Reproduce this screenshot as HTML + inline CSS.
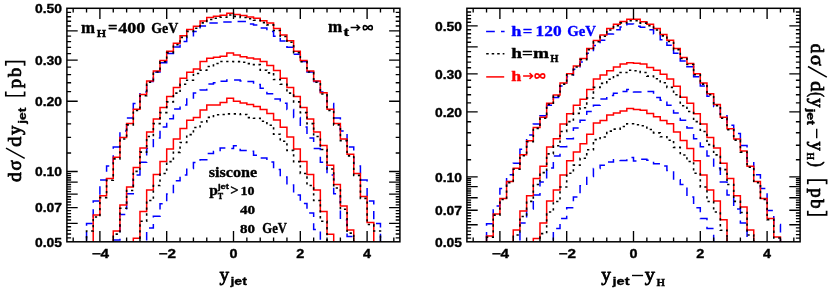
<!DOCTYPE html>
<html><head><meta charset="utf-8"><title>plot</title>
<style>html,body{margin:0;padding:0;background:#fff;}svg{display:block;will-change:transform}text{font-family:"Liberation Serif",serif;font-weight:bold;stroke-width:.35px;stroke-linejoin:round}.s{font-family:"Liberation Sans",sans-serif;font-weight:bold}</style></head><body>
<svg width="830" height="294" viewBox="0 0 830 294">
<rect x="0" y="0" width="830" height="294" fill="#fff"/>
<clipPath id="cL"><rect x="66.9" y="8.3" width="333.0" height="233.5"/></clipPath>
<g clip-path="url(#cL)" fill="none" stroke-linejoin="miter">
<path d="M79.86 261.8 L79.86 270 L86.54 270 L86.54 223.5 L93.22 223.5 L93.22 201 L99.9 201 L99.9 180 L106.58 180 L106.58 166 L113.26 166 L113.26 147 L119.94 147 L119.94 131 L126.62 131 L126.62 118 L133.3 118 L133.3 103.5 L139.98 103.5 L139.98 92 L146.66 92 L146.66 81.5 L153.34 81.5 L153.34 72 L160.02 72 L160.02 62.8 L166.7 62.8 L166.7 53.5 L173.38 53.5 L173.38 46.9 L180.06 46.9 L180.06 41.5 L186.74 41.5 L186.74 36.9 L193.42 36.9 L193.42 31.5 L200.1 31.5 L200.1 26 L206.78 26 L206.78 22.9 L213.46 22.9 L213.46 22.9 L220.14 22.9 L220.14 22 L226.82 22 L226.82 22 L233.5 22 L233.5 21.5 L240.18 21.5 L240.18 21.5 L246.86 21.5 L246.86 24 L253.54 24 L253.54 24.9 L260.22 24.9 L260.22 28 L266.9 28 L266.9 31.5 L273.58 31.5 L273.58 36.2 L280.26 36.2 L280.26 41 L286.94 41 L286.94 47.2 L293.62 47.2 L293.62 54.2 L300.3 54.2 L300.3 61.5 L306.98 61.5 L306.98 72 L313.66 72 L313.66 81.5 L320.34 81.5 L320.34 92 L327.02 92 L327.02 103.5 L333.7 103.5 L333.7 118 L340.38 118 L340.38 131 L347.06 131 L347.06 147 L353.74 147 L353.74 166 L360.42 166 L360.42 180 L367.1 180 L367.1 201 L373.78 201 L373.78 223.5 L380.46 223.5 L380.46 270 L387.14 270 L387.14 261.8" stroke="#0000ff" stroke-width="1.5" stroke-dasharray="8.4 6.4" stroke-dashoffset="0"/>
<path d="M106.58 261.8 L106.58 270 L113.26 270 L113.26 240 L119.94 240 L119.94 214.5 L126.62 214.5 L126.62 193.7 L133.3 193.7 L133.3 175 L139.98 175 L139.98 162.2 L146.66 162.2 L146.66 148.5 L153.34 148.5 L153.34 138 L160.02 138 L160.02 127.1 L166.7 127.1 L166.7 118.7 L173.38 118.7 L173.38 108.9 L180.06 108.9 L180.06 105.1 L186.74 105.1 L186.74 97.9 L193.42 97.9 L193.42 93.1 L200.1 93.1 L200.1 90.1 L206.78 90.1 L206.78 84 L213.46 84 L213.46 82.8 L220.14 82.8 L220.14 81.3 L226.82 81.3 L226.82 80.1 L233.5 80.1 L233.5 80.1 L240.18 80.1 L240.18 81 L246.86 81 L246.86 81.6 L253.54 81.6 L253.54 84.6 L260.22 84.6 L260.22 88.3 L266.9 88.3 L266.9 93.7 L273.58 93.7 L273.58 99.1 L280.26 99.1 L280.26 103.3 L286.94 103.3 L286.94 109.5 L293.62 109.5 L293.62 117.5 L300.3 117.5 L300.3 127.1 L306.98 127.1 L306.98 138 L313.66 138 L313.66 148.5 L320.34 148.5 L320.34 162.2 L327.02 162.2 L327.02 175 L333.7 175 L333.7 193.7 L340.38 193.7 L340.38 220 L347.06 220 L347.06 236.5 L353.74 236.5 L353.74 270 L360.42 270 L360.42 261.8" stroke="#0000ff" stroke-width="1.5" stroke-dasharray="8.4 6.4" stroke-dashoffset="0"/>
<path d="M139.98 261.8 L139.98 270 L146.66 270 L146.66 228 L153.34 228 L153.34 216.2 L160.02 216.2 L160.02 203.7 L166.7 203.7 L166.7 194 L173.38 194 L173.38 180.8 L180.06 180.8 L180.06 175 L186.74 175 L186.74 168.5 L193.42 168.5 L193.42 162.5 L200.1 162.5 L200.1 159.8 L206.78 159.8 L206.78 153.5 L213.46 153.5 L213.46 151.5 L220.14 151.5 L220.14 148 L226.82 148 L226.82 148.5 L233.5 148.5 L233.5 145.7 L240.18 145.7 L240.18 150.6 L246.86 150.6 L246.86 151.2 L253.54 151.2 L253.54 155.2 L260.22 155.2 L260.22 157.9 L266.9 157.9 L266.9 162 L273.58 162 L273.58 169.5 L280.26 169.5 L280.26 177 L286.94 177 L286.94 185 L293.62 185 L293.62 195 L300.3 195 L300.3 203.5 L306.98 203.5 L306.98 213 L313.66 213 L313.66 229.5 L320.34 229.5 L320.34 270 L327.02 270 L327.02 261.8" stroke="#0000ff" stroke-width="1.5" stroke-dasharray="8.4 6.4" stroke-dashoffset="0"/>
<path d="M86.54 261.8 L86.54 270 L93.22 270 L93.22 215 L99.9 215 L99.9 195.7 L106.58 195.7 L106.58 178.4 L113.26 178.4 L113.26 157.2 L119.94 157.2 L119.94 137.5 L126.62 137.5 L126.62 123.4 L133.3 123.4 L133.3 109.2 L139.98 109.2 L139.98 94.5 L146.66 94.5 L146.66 81.1 L153.34 81.1 L153.34 71 L160.02 71 L160.02 60.6 L166.7 60.6 L166.7 51.3 L173.38 51.3 L173.38 43.3 L180.06 43.3 L180.06 35.7 L186.74 35.7 L186.74 29.5 L193.42 29.5 L193.42 26.2 L200.1 26.2 L200.1 20.9 L206.78 20.9 L206.78 17.6 L213.46 17.6 L213.46 16.3 L220.14 16.3 L220.14 15.35 L226.82 15.35 L226.82 13.2 L233.5 13.2 L233.5 14.55 L240.18 14.55 L240.18 15.6 L246.86 15.6 L246.86 16.9 L253.54 16.9 L253.54 18.3 L260.22 18.3 L260.22 20.7 L266.9 20.7 L266.9 22.9 L273.58 22.9 L273.58 28.6 L280.26 28.6 L280.26 34.9 L286.94 34.9 L286.94 40.8 L293.62 40.8 L293.62 51.3 L300.3 51.3 L300.3 60.6 L306.98 60.6 L306.98 71 L313.66 71 L313.66 81.1 L320.34 81.1 L320.34 92.8 L327.02 92.8 L327.02 109.2 L333.7 109.2 L333.7 123.4 L340.38 123.4 L340.38 139.1 L347.06 139.1 L347.06 154.2 L353.74 154.2 L353.74 173.6 L360.42 173.6 L360.42 196.5 L367.1 196.5 L367.1 222.5 L373.78 222.5 L373.78 270 L380.46 270 L380.46 261.8" stroke="#ff0000" stroke-width="1.5"/>
<path d="M106.58 261.8 L106.58 270 L113.26 270 L113.26 231.1 L119.94 231.1 L119.94 205 L126.62 205 L126.62 187 L133.3 187 L133.3 167.6 L139.98 167.6 L139.98 148.1 L146.66 148.1 L146.66 132.1 L153.34 132.1 L153.34 119 L160.02 119 L160.02 107.6 L166.7 107.6 L166.7 96.5 L173.38 96.5 L173.38 87.5 L180.06 87.5 L180.06 78.2 L186.74 78.2 L186.74 72.2 L193.42 72.2 L193.42 68.9 L200.1 68.9 L200.1 61.6 L206.78 61.6 L206.78 58.3 L213.46 58.3 L213.46 57.2 L220.14 57.2 L220.14 56.3 L226.82 56.3 L226.82 53 L233.5 53 L233.5 55 L240.18 55 L240.18 56.7 L246.86 56.7 L246.86 58 L253.54 58 L253.54 58.9 L260.22 58.9 L260.22 61.6 L266.9 61.6 L266.9 65.6 L273.58 65.6 L273.58 70.5 L280.26 70.5 L280.26 78.2 L286.94 78.2 L286.94 87.5 L293.62 87.5 L293.62 96.5 L300.3 96.5 L300.3 107.6 L306.98 107.6 L306.98 119 L313.66 119 L313.66 132.1 L320.34 132.1 L320.34 145.5 L327.02 145.5 L327.02 165.2 L333.7 165.2 L333.7 184.5 L340.38 184.5 L340.38 206 L347.06 206 L347.06 230.1 L353.74 230.1 L353.74 270 L360.42 270 L360.42 261.8" stroke="#ff0000" stroke-width="1.5"/>
<path d="M126.62 261.8 L126.62 270 L133.3 270 L133.3 238.2 L139.98 238.2 L139.98 211.5 L146.66 211.5 L146.66 190 L153.34 190 L153.34 174.4 L160.02 174.4 L160.02 161.6 L166.7 161.6 L166.7 149.1 L173.38 149.1 L173.38 139.1 L180.06 139.1 L180.06 128.5 L186.74 128.5 L186.74 120.3 L193.42 120.3 L193.42 117.6 L200.1 117.6 L200.1 109.9 L206.78 109.9 L206.78 104.9 L213.46 104.9 L213.46 104.9 L220.14 104.9 L220.14 102.6 L226.82 102.6 L226.82 98.2 L233.5 98.2 L233.5 101.3 L240.18 101.3 L240.18 102.9 L246.86 102.9 L246.86 104.6 L253.54 104.6 L253.54 106.6 L260.22 106.6 L260.22 109.5 L266.9 109.5 L266.9 113.5 L273.58 113.5 L273.58 119.9 L280.26 119.9 L280.26 127.3 L286.94 127.3 L286.94 137.1 L293.62 137.1 L293.62 149.1 L300.3 149.1 L300.3 161.6 L306.98 161.6 L306.98 174.4 L313.66 174.4 L313.66 190 L320.34 190 L320.34 211.5 L327.02 211.5 L327.02 234.2 L333.7 234.2 L333.7 270 L340.38 270 L340.38 261.8" stroke="#ff0000" stroke-width="1.5"/>
<path d="M86.54 261.8 L86.54 231 L93.22 231 L93.22 217 L99.9 217 L99.9 197.59 L106.58 197.59 L106.58 180.18 L113.26 180.18 L113.26 158.87 L119.94 158.87 L119.94 139.06 L126.62 139.06 L126.62 124.84 L133.3 124.84 L133.3 110.53 L139.98 110.53 L139.98 95.72 L146.66 95.72 L146.66 82.21 L153.34 82.21 L153.34 72 L160.02 72 L160.02 61.77 L166.7 61.77 L166.7 52.63 L173.38 52.63 L173.38 44.8 L180.06 44.8 L180.06 37.37 L186.74 37.37 L186.74 31.33 L193.42 31.33 L193.42 28.2 L200.1 28.2 L200.1 22.86 L206.78 22.86 L206.78 19.52 L213.46 19.52 L213.46 18.18 L220.14 18.18 L220.14 17.19 L226.82 17.19 L226.82 15 L233.5 15 L233.5 16.35 L240.18 16.35 L240.18 17.44 L246.86 17.44 L246.86 18.78 L253.54 18.78 L253.54 20.22 L260.22 20.22 L260.22 22.66 L266.9 22.66 L266.9 24.9 L273.58 24.9 L273.58 30.43 L280.26 30.43 L280.26 36.57 L286.94 36.57 L286.94 42.3 L293.62 42.3 L293.62 52.63 L300.3 52.63 L300.3 61.77 L306.98 61.77 L306.98 72 L313.66 72 L313.66 82.21 L320.34 82.21 L320.34 94.02 L327.02 94.02 L327.02 110.53 L333.7 110.53 L333.7 124.84 L340.38 124.84 L340.38 140.66 L347.06 140.66 L347.06 155.87 L353.74 155.87 L353.74 175.38 L360.42 175.38 L360.42 198.39 L367.1 198.39 L367.1 224.5 L373.78 224.5 L373.78 231 L380.46 231 L380.46 261.8" stroke="#000" stroke-width="1.6" stroke-dasharray="2.3 3.6"/>
<path d="M106.58 261.8 L106.58 270 L113.26 270 L113.26 234.1 L119.94 234.1 L119.94 208.25 L126.62 208.25 L126.62 190.5 L133.3 190.5 L133.3 171.35 L139.98 171.35 L139.98 152.1 L146.66 152.1 L146.66 136.43 L153.34 136.43 L153.34 123.67 L160.02 123.67 L160.02 112.6 L166.7 112.6 L166.7 101.83 L173.38 101.83 L173.38 93.17 L180.06 93.17 L180.06 84.2 L186.74 84.2 L186.74 80.2 L193.42 80.2 L193.42 73.5 L200.1 73.5 L200.1 70.2 L206.78 70.2 L206.78 66.5 L213.46 66.5 L213.46 63.5 L220.14 63.5 L220.14 61.5 L226.82 61.5 L226.82 61.5 L233.5 61.5 L233.5 61.6 L240.18 61.6 L240.18 62.3 L246.86 62.3 L246.86 63.6 L253.54 63.6 L253.54 64.6 L260.22 64.6 L260.22 70.2 L266.9 70.2 L266.9 72.9 L273.58 72.9 L273.58 79.5 L280.26 79.5 L280.26 84.2 L286.94 84.2 L286.94 93.17 L293.62 93.17 L293.62 101.83 L300.3 101.83 L300.3 112.6 L306.98 112.6 L306.98 123.67 L313.66 123.67 L313.66 136.43 L320.34 136.43 L320.34 149.5 L327.02 149.5 L327.02 168.95 L333.7 168.95 L333.7 188 L340.38 188 L340.38 209.25 L347.06 209.25 L347.06 233.1 L353.74 233.1 L353.74 270 L360.42 270 L360.42 261.8" stroke="#000" stroke-width="1.6" stroke-dasharray="2.3 3.6"/>
<path d="M126.62 261.8 L126.62 270 L133.3 270 L133.3 247.2 L139.98 247.2 L139.98 221.21 L146.66 221.21 L146.66 200.43 L153.34 200.43 L153.34 185.54 L160.02 185.54 L160.02 173.46 L166.7 173.46 L166.7 161.67 L173.38 161.67 L173.38 152.39 L180.06 152.39 L180.06 142.5 L186.74 142.5 L186.74 134.59 L193.42 134.59 L193.42 127.5 L200.1 127.5 L200.1 122 L206.78 122 L206.78 117.4 L213.46 117.4 L213.46 114.8 L220.14 114.8 L220.14 114.5 L226.82 114.5 L226.82 113.9 L233.5 113.9 L233.5 113.9 L240.18 113.9 L240.18 114.5 L246.86 114.5 L246.86 117.6 L253.54 117.6 L253.54 118.2 L260.22 118.2 L260.22 121.2 L266.9 121.2 L266.9 125.2 L273.58 125.2 L273.58 134.19 L280.26 134.19 L280.26 141.3 L286.94 141.3 L286.94 150.39 L293.62 150.39 L293.62 161.67 L300.3 161.67 L300.3 173.46 L306.98 173.46 L306.98 185.54 L313.66 185.54 L313.66 200.43 L320.34 200.43 L320.34 221.21 L327.02 221.21 L327.02 243.2 L333.7 243.2 L333.7 270 L340.38 270 L340.38 261.8" stroke="#000" stroke-width="1.6" stroke-dasharray="2.3 3.6"/>
</g>
<path d="M73.18 241.8V237.6M73.18 8.3V12.5M86.54 241.8V237.6M86.54 8.3V12.5M99.9 241.8V231M99.9 8.3V19.1M113.26 241.8V237.6M113.26 8.3V12.5M126.62 241.8V237.6M126.62 8.3V12.5M139.98 241.8V237.6M139.98 8.3V12.5M153.34 241.8V237.6M153.34 8.3V12.5M166.7 241.8V231M166.7 8.3V19.1M180.06 241.8V237.6M180.06 8.3V12.5M193.42 241.8V237.6M193.42 8.3V12.5M206.78 241.8V237.6M206.78 8.3V12.5M220.14 241.8V237.6M220.14 8.3V12.5M233.5 241.8V231M233.5 8.3V19.1M246.86 241.8V237.6M246.86 8.3V12.5M260.22 241.8V237.6M260.22 8.3V12.5M273.58 241.8V237.6M273.58 8.3V12.5M286.94 241.8V237.6M286.94 8.3V12.5M300.3 241.8V231M300.3 8.3V19.1M313.66 241.8V237.6M313.66 8.3V12.5M327.02 241.8V237.6M327.02 8.3V12.5M340.38 241.8V237.6M340.38 8.3V12.5M353.74 241.8V237.6M353.74 8.3V12.5M367.1 241.8V231M367.1 8.3V19.1M380.46 241.8V237.6M380.46 8.3V12.5M393.82 241.8V237.6M393.82 8.3V12.5M66.9 237.82H71.1M399.9 237.82H395.7M66.9 234H71.1M399.9 234H395.7M66.9 230.31H71.1M399.9 230.31H395.7M66.9 226.75H71.1M399.9 226.75H395.7M66.9 223.31H77.7M399.9 223.31H389.1M66.9 219.99H71.1M399.9 219.99H395.7M66.9 216.77H71.1M399.9 216.77H395.7M66.9 213.65H71.1M399.9 213.65H395.7M66.9 210.62H71.1M399.9 210.62H395.7M66.9 207.68H77.7M399.9 207.68H389.1M66.9 204.82H71.1M399.9 204.82H395.7M66.9 202.04H71.1M399.9 202.04H395.7M66.9 199.34H71.1M399.9 199.34H395.7M66.9 196.71H71.1M399.9 196.71H395.7M66.9 194.14H77.7M399.9 194.14H389.1M66.9 191.63H71.1M399.9 191.63H395.7M66.9 189.19H71.1M399.9 189.19H395.7M66.9 186.8H71.1M399.9 186.8H395.7M66.9 184.47H71.1M399.9 184.47H395.7M66.9 182.19H77.7M399.9 182.19H389.1M66.9 179.97H71.1M399.9 179.97H395.7M66.9 177.78H71.1M399.9 177.78H395.7M66.9 175.65H71.1M399.9 175.65H395.7M66.9 173.56H71.1M399.9 173.56H395.7M66.9 171.51H77.7M399.9 171.51H389.1M66.9 153.02H71.1M399.9 153.02H395.7M66.9 137.39H71.1M399.9 137.39H395.7M66.9 123.85H71.1M399.9 123.85H395.7M66.9 111.9H71.1M399.9 111.9H395.7M66.9 101.22H77.7M399.9 101.22H389.1M66.9 91.55H71.1M399.9 91.55H395.7M66.9 82.73H71.1M399.9 82.73H395.7M66.9 74.61H71.1M399.9 74.61H395.7M66.9 67.1H71.1M399.9 67.1H395.7M66.9 60.1H77.7M399.9 60.1H389.1M66.9 53.56H71.1M399.9 53.56H395.7M66.9 47.41H71.1M399.9 47.41H395.7M66.9 41.61H71.1M399.9 41.61H395.7M66.9 36.13H71.1M399.9 36.13H395.7M66.9 30.93H77.7M399.9 30.93H389.1M66.9 25.98H71.1M399.9 25.98H395.7M66.9 21.26H71.1M399.9 21.26H395.7M66.9 16.76H71.1M399.9 16.76H395.7M66.9 12.44H71.1M399.9 12.44H395.7" stroke="#000" stroke-width="1.35" fill="none"/>
<rect x="66.9" y="8.3" width="333.0" height="233.5" fill="none" stroke="#000" stroke-width="1.5"/>
<text class="s" fill="#000" stroke="#000" x="62" y="13.1" font-size="12.2" text-anchor="end" textLength="27" lengthAdjust="spacingAndGlyphs">0.50</text>
<text class="s" fill="#000" stroke="#000" x="62" y="64.9" font-size="12.2" text-anchor="end" textLength="27" lengthAdjust="spacingAndGlyphs">0.30</text>
<text class="s" fill="#000" stroke="#000" x="62" y="106.02" font-size="12.2" text-anchor="end" textLength="27" lengthAdjust="spacingAndGlyphs">0.20</text>
<text class="s" fill="#000" stroke="#000" x="62" y="176.31" font-size="12.2" text-anchor="end" textLength="27" lengthAdjust="spacingAndGlyphs">0.10</text>
<text class="s" fill="#000" stroke="#000" x="62" y="212.48" font-size="12.2" text-anchor="end" textLength="27" lengthAdjust="spacingAndGlyphs">0.07</text>
<text class="s" fill="#000" stroke="#000" x="62" y="246.6" font-size="12.2" text-anchor="end" textLength="27" lengthAdjust="spacingAndGlyphs">0.05</text>
<text class="s" fill="#000" stroke="#000" x="100.4" y="258.4" font-size="12.2" text-anchor="middle" textLength="17.4" lengthAdjust="spacingAndGlyphs">−4</text>
<text class="s" fill="#000" stroke="#000" x="167.2" y="258.4" font-size="12.2" text-anchor="middle" textLength="17.4" lengthAdjust="spacingAndGlyphs">−2</text>
<text class="s" fill="#000" stroke="#000" x="233.5" y="258.4" font-size="12.2" text-anchor="middle" textLength="8" lengthAdjust="spacingAndGlyphs">0</text>
<text class="s" fill="#000" stroke="#000" x="300.3" y="258.4" font-size="12.2" text-anchor="middle" textLength="8" lengthAdjust="spacingAndGlyphs">2</text>
<text class="s" fill="#000" stroke="#000" x="367.1" y="258.4" font-size="12.2" text-anchor="middle" textLength="8" lengthAdjust="spacingAndGlyphs">4</text>
<clipPath id="cR"><rect x="466.9" y="8.3" width="333.20000000000005" height="233.5"/></clipPath>
<g clip-path="url(#cR)" fill="none" stroke-linejoin="miter">
<path d="M479.86 261.8 L479.86 270 L486.54 270 L486.54 223.7 L493.22 223.7 L493.22 206.1 L499.9 206.1 L499.9 188.5 L506.58 188.5 L506.58 174.8 L513.26 174.8 L513.26 163.2 L519.94 163.2 L519.94 149.3 L526.62 149.3 L526.62 135.1 L533.3 135.1 L533.3 124 L539.98 124 L539.98 115.7 L546.66 115.7 L546.66 105.2 L553.34 105.2 L553.34 97.6 L560.02 97.6 L560.02 86.1 L566.7 86.1 L566.7 76.87 L573.38 76.87 L573.38 69.33 L580.06 69.33 L580.06 62 L586.74 62 L586.74 53.3 L593.42 53.3 L593.42 45.57 L600.1 45.57 L600.1 40.13 L606.78 40.13 L606.78 33.9 L613.46 33.9 L613.46 29.7 L620.14 29.7 L620.14 26.9 L626.82 26.9 L626.82 24.1 L633.5 24.1 L633.5 26.2 L640.18 26.2 L640.18 27.2 L646.86 27.2 L646.86 29.7 L653.54 29.7 L653.54 33.9 L660.22 33.9 L660.22 39.73 L666.9 39.73 L666.9 45.27 L673.58 45.27 L673.58 53.3 L680.26 53.3 L680.26 60.9 L686.94 60.9 L686.94 66.83 L693.62 66.83 L693.62 76.87 L700.3 76.87 L700.3 86.1 L706.98 86.1 L706.98 96.2 L713.66 96.2 L713.66 106.6 L720.34 106.6 L720.34 115.7 L727.02 115.7 L727.02 125.3 L733.7 125.3 L733.7 133.5 L740.38 133.5 L740.38 145.6 L747.06 145.6 L747.06 161.2 L753.74 161.2 L753.74 174.8 L760.42 174.8 L760.42 188.5 L767.1 188.5 L767.1 210.6 L773.78 210.6 L773.78 224.6 L780.46 224.6 L780.46 270 L787.14 270 L787.14 261.8" stroke="#0000ff" stroke-width="1.5" stroke-dasharray="8.4 6.4" stroke-dashoffset="0"/>
<path d="M513.26 261.8 L513.26 270 L519.94 270 L519.94 223 L526.62 223 L526.62 209 L533.3 209 L533.3 195 L539.98 195 L539.98 182 L546.66 182 L546.66 168 L553.34 168 L553.34 156 L560.02 156 L560.02 146.7 L566.7 146.7 L566.7 138.7 L573.38 138.7 L573.38 128 L580.06 128 L580.06 120.2 L586.74 120.2 L586.74 111.5 L593.42 111.5 L593.42 105.2 L600.1 105.2 L600.1 98.9 L606.78 98.9 L606.78 95.6 L613.46 95.6 L613.46 93.2 L620.14 93.2 L620.14 91.4 L626.82 91.4 L626.82 89.6 L633.5 89.6 L633.5 91.9 L640.18 91.9 L640.18 91.9 L646.86 91.9 L646.86 91.4 L653.54 91.4 L653.54 97.5 L660.22 97.5 L660.22 100.3 L666.9 100.3 L666.9 105.2 L673.58 105.2 L673.58 112.9 L680.26 112.9 L680.26 120.2 L686.94 120.2 L686.94 128 L693.62 128 L693.62 138.7 L700.3 138.7 L700.3 146.7 L706.98 146.7 L706.98 156 L713.66 156 L713.66 168 L720.34 168 L720.34 182 L727.02 182 L727.02 195 L733.7 195 L733.7 209 L740.38 209 L740.38 223 L747.06 223 L747.06 270 L753.74 270 L753.74 261.8" stroke="#0000ff" stroke-width="1.5" stroke-dasharray="8.4 6.4" stroke-dashoffset="0"/>
<path d="M546.66 261.8 L546.66 270 L553.34 270 L553.34 228.5 L560.02 228.5 L560.02 218.6 L566.7 218.6 L566.7 207.7 L573.38 207.7 L573.38 197 L580.06 197 L580.06 185.8 L586.74 185.8 L586.74 176.5 L593.42 176.5 L593.42 168.6 L600.1 168.6 L600.1 165.3 L606.78 165.3 L606.78 161.9 L613.46 161.9 L613.46 159.7 L620.14 159.7 L620.14 160.6 L626.82 160.6 L626.82 157.6 L633.5 157.6 L633.5 161 L640.18 161 L640.18 159.3 L646.86 159.3 L646.86 160.2 L653.54 160.2 L653.54 163.7 L660.22 163.7 L660.22 165.9 L666.9 165.9 L666.9 170.6 L673.58 170.6 L673.58 179.8 L680.26 179.8 L680.26 184.5 L686.94 184.5 L686.94 197 L693.62 197 L693.62 207.7 L700.3 207.7 L700.3 218.6 L706.98 218.6 L706.98 228.5 L713.66 228.5 L713.66 270 L720.34 270 L720.34 261.8" stroke="#0000ff" stroke-width="1.5" stroke-dasharray="8.4 6.4" stroke-dashoffset="0"/>
<path d="M479.86 261.8 L479.86 270 L486.54 270 L486.54 236.1 L493.22 236.1 L493.22 214.1 L499.9 214.1 L499.9 198.5 L506.58 198.5 L506.58 181.6 L513.26 181.6 L513.26 168.2 L519.94 168.2 L519.94 154.8 L526.62 154.8 L526.62 140.7 L533.3 140.7 L533.3 127.4 L539.98 127.4 L539.98 117.2 L546.66 117.2 L546.66 103.2 L553.34 103.2 L553.34 95.1 L560.02 95.1 L560.02 83.1 L566.7 83.1 L566.7 73.7 L573.38 73.7 L573.38 66 L580.06 66 L580.06 58.5 L586.74 58.5 L586.74 48.5 L593.42 48.5 L593.42 40.6 L600.1 40.6 L600.1 35 L606.78 35 L606.78 28.6 L613.46 28.6 L613.46 24.3 L620.14 24.3 L620.14 21.4 L626.82 21.4 L626.82 19.3 L633.5 19.3 L633.5 19.3 L640.18 19.3 L640.18 21.7 L646.86 21.7 L646.86 24.3 L653.54 24.3 L653.54 28.6 L660.22 28.6 L660.22 34.6 L666.9 34.6 L666.9 40.3 L673.58 40.3 L673.58 48.5 L680.26 48.5 L680.26 57.4 L686.94 57.4 L686.94 63.5 L693.62 63.5 L693.62 73.7 L700.3 73.7 L700.3 83.1 L706.98 83.1 L706.98 93.7 L713.66 93.7 L713.66 104.6 L720.34 104.6 L720.34 117.2 L727.02 117.2 L727.02 128.7 L733.7 128.7 L733.7 139.1 L740.38 139.1 L740.38 151.1 L747.06 151.1 L747.06 166.2 L753.74 166.2 L753.74 181.6 L760.42 181.6 L760.42 198.5 L767.1 198.5 L767.1 218.6 L773.78 218.6 L773.78 237 L780.46 237 L780.46 270 L787.14 270 L787.14 261.8" stroke="#ff0000" stroke-width="1.5"/>
<path d="M506.58 261.8 L506.58 270 L513.26 270 L513.26 230 L519.94 230 L519.94 211.1 L526.62 211.1 L526.62 195.7 L533.3 195.7 L533.3 178.4 L539.98 178.4 L539.98 166.2 L546.66 166.2 L546.66 147.1 L553.34 147.1 L553.34 138.7 L560.02 138.7 L560.02 124 L566.7 124 L566.7 113.8 L573.38 113.8 L573.38 105.2 L580.06 105.2 L580.06 99.2 L586.74 99.2 L586.74 89.5 L593.42 89.5 L593.42 78.9 L600.1 78.9 L600.1 74.9 L606.78 74.9 L606.78 70.7 L613.46 70.7 L613.46 66.9 L620.14 66.9 L620.14 64 L626.82 64 L626.82 62.7 L633.5 62.7 L633.5 63.2 L640.18 63.2 L640.18 64 L646.86 64 L646.86 67.6 L653.54 67.6 L653.54 70.3 L660.22 70.3 L660.22 74.2 L666.9 74.2 L666.9 78.9 L673.58 78.9 L673.58 86.2 L680.26 86.2 L680.26 97.2 L686.94 97.2 L686.94 103.3 L693.62 103.3 L693.62 113.8 L700.3 113.8 L700.3 124 L706.98 124 L706.98 137.5 L713.66 137.5 L713.66 148.1 L720.34 148.1 L720.34 163.2 L727.02 163.2 L727.02 178.4 L733.7 178.4 L733.7 195.7 L740.38 195.7 L740.38 207.1 L747.06 207.1 L747.06 230 L753.74 230 L753.74 270 L760.42 270 L760.42 261.8" stroke="#ff0000" stroke-width="1.5"/>
<path d="M526.62 261.8 L526.62 270 L533.3 270 L533.3 238.5 L539.98 238.5 L539.98 223.1 L546.66 223.1 L546.66 201 L553.34 201 L553.34 190 L560.02 190 L560.02 175 L566.7 175 L566.7 160.8 L573.38 160.8 L573.38 152.1 L580.06 152.1 L580.06 143.8 L586.74 143.8 L586.74 134.3 L593.42 134.3 L593.42 123.1 L600.1 123.1 L600.1 120.6 L606.78 120.6 L606.78 115 L613.46 115 L613.46 113.1 L620.14 113.1 L620.14 110.9 L626.82 110.9 L626.82 108.6 L633.5 108.6 L633.5 109.5 L640.18 109.5 L640.18 110.2 L646.86 110.2 L646.86 113.5 L653.54 113.5 L653.54 116.7 L660.22 116.7 L660.22 120.4 L666.9 120.4 L666.9 123.7 L673.58 123.7 L673.58 131.9 L680.26 131.9 L680.26 140.5 L686.94 140.5 L686.94 148.5 L693.62 148.5 L693.62 160.8 L700.3 160.8 L700.3 175 L706.98 175 L706.98 190 L713.66 190 L713.66 201 L720.34 201 L720.34 219.7 L727.02 219.7 L727.02 270 L733.7 270 L733.7 270 L740.38 270 L740.38 261.8" stroke="#ff0000" stroke-width="1.5"/>
<path d="M479.86 261.8 L479.86 270 L486.54 270 L486.54 237.1 L493.22 237.1 L493.22 215.1 L499.9 215.1 L499.9 199.5 L506.58 199.5 L506.58 182.6 L513.26 182.6 L513.26 169.2 L519.94 169.2 L519.94 155.8 L526.62 155.8 L526.62 141.7 L533.3 141.7 L533.3 128.4 L539.98 128.4 L539.98 118.2 L546.66 118.2 L546.66 104.2 L553.34 104.2 L553.34 96.1 L560.02 96.1 L560.02 84.1 L566.7 84.1 L566.7 74.7 L573.38 74.7 L573.38 67.06 L580.06 67.06 L580.06 59.61 L586.74 59.61 L586.74 49.67 L593.42 49.67 L593.42 41.82 L600.1 41.82 L600.1 36.28 L606.78 36.28 L606.78 29.93 L613.46 29.93 L613.46 25.69 L620.14 25.69 L620.14 22.84 L626.82 22.84 L626.82 20.8 L633.5 20.8 L633.5 20.8 L640.18 20.8 L640.18 23.14 L646.86 23.14 L646.86 25.69 L653.54 25.69 L653.54 29.93 L660.22 29.93 L660.22 35.88 L666.9 35.88 L666.9 41.52 L673.58 41.52 L673.58 49.67 L680.26 49.67 L680.26 58.51 L686.94 58.51 L686.94 64.56 L693.62 64.56 L693.62 74.7 L700.3 74.7 L700.3 84.1 L706.98 84.1 L706.98 94.7 L713.66 94.7 L713.66 105.6 L720.34 105.6 L720.34 118.2 L727.02 118.2 L727.02 129.7 L733.7 129.7 L733.7 140.1 L740.38 140.1 L740.38 152.1 L747.06 152.1 L747.06 167.2 L753.74 167.2 L753.74 182.6 L760.42 182.6 L760.42 199.5 L767.1 199.5 L767.1 219.6 L773.78 219.6 L773.78 238 L780.46 238 L780.46 270 L787.14 270 L787.14 261.8" stroke="#000" stroke-width="1.6" stroke-dasharray="2.3 3.6"/>
<path d="M506.58 261.8 L506.58 270 L513.26 270 L513.26 235 L519.94 235 L519.94 216.45 L526.62 216.45 L526.62 201.4 L533.3 201.4 L533.3 184.45 L539.98 184.45 L539.98 172.6 L546.66 172.6 L546.66 153.85 L553.34 153.85 L553.34 145.8 L560.02 145.8 L560.02 131.45 L566.7 131.45 L566.7 121.6 L573.38 121.6 L573.38 113.35 L580.06 113.35 L580.06 107.7 L586.74 107.7 L586.74 98 L593.42 98 L593.42 87.4 L600.1 87.4 L600.1 83.4 L606.78 83.4 L606.78 79.2 L613.46 79.2 L613.46 75.4 L620.14 75.4 L620.14 72.5 L626.82 72.5 L626.82 70.2 L633.5 70.2 L633.5 70.7 L640.18 70.7 L640.18 72.5 L646.86 72.5 L646.86 76.1 L653.54 76.1 L653.54 78.8 L660.22 78.8 L660.22 82.7 L666.9 82.7 L666.9 87.4 L673.58 87.4 L673.58 94.7 L680.26 94.7 L680.26 105.7 L686.94 105.7 L686.94 111.45 L693.62 111.45 L693.62 121.6 L700.3 121.6 L700.3 131.45 L706.98 131.45 L706.98 144.6 L713.66 144.6 L713.66 154.85 L720.34 154.85 L720.34 169.6 L727.02 169.6 L727.02 184.45 L733.7 184.45 L733.7 201.4 L740.38 201.4 L740.38 212.45 L747.06 212.45 L747.06 235 L753.74 235 L753.74 270 L760.42 270 L760.42 261.8" stroke="#000" stroke-width="1.6" stroke-dasharray="2.3 3.6"/>
<path d="M526.62 261.8 L526.62 270 L533.3 270 L533.3 248.5 L539.98 248.5 L539.98 233.6 L546.66 233.6 L546.66 212 L553.34 212 L553.34 201.5 L560.02 201.5 L560.02 187 L566.7 187 L566.7 173.3 L573.38 173.3 L573.38 165.1 L580.06 165.1 L580.06 158.3 L586.74 158.3 L586.74 149.8 L593.42 149.8 L593.42 139.6 L600.1 139.6 L600.1 136.93 L606.78 136.93 L606.78 131.17 L613.46 131.17 L613.46 129.1 L620.14 129.1 L620.14 126.5 L626.82 126.5 L626.82 123.8 L633.5 123.8 L633.5 124.7 L640.18 124.7 L640.18 125.8 L646.86 125.8 L646.86 129.5 L653.54 129.5 L653.54 132.87 L660.22 132.87 L660.22 136.73 L666.9 136.73 L666.9 140.2 L673.58 140.2 L673.58 147.4 L680.26 147.4 L680.26 155 L686.94 155 L686.94 161.5 L693.62 161.5 L693.62 173.3 L700.3 173.3 L700.3 187 L706.98 187 L706.98 201.5 L713.66 201.5 L713.66 212 L720.34 212 L720.34 230.2 L727.02 230.2 L727.02 270 L733.7 270 L733.7 270 L740.38 270 L740.38 261.8" stroke="#000" stroke-width="1.6" stroke-dasharray="2.3 3.6"/>
</g>
<path d="M473.18 241.8V237.6M473.18 8.3V12.5M486.54 241.8V237.6M486.54 8.3V12.5M499.9 241.8V231M499.9 8.3V19.1M513.26 241.8V237.6M513.26 8.3V12.5M526.62 241.8V237.6M526.62 8.3V12.5M539.98 241.8V237.6M539.98 8.3V12.5M553.34 241.8V237.6M553.34 8.3V12.5M566.7 241.8V231M566.7 8.3V19.1M580.06 241.8V237.6M580.06 8.3V12.5M593.42 241.8V237.6M593.42 8.3V12.5M606.78 241.8V237.6M606.78 8.3V12.5M620.14 241.8V237.6M620.14 8.3V12.5M633.5 241.8V231M633.5 8.3V19.1M646.86 241.8V237.6M646.86 8.3V12.5M660.22 241.8V237.6M660.22 8.3V12.5M673.58 241.8V237.6M673.58 8.3V12.5M686.94 241.8V237.6M686.94 8.3V12.5M700.3 241.8V231M700.3 8.3V19.1M713.66 241.8V237.6M713.66 8.3V12.5M727.02 241.8V237.6M727.02 8.3V12.5M740.38 241.8V237.6M740.38 8.3V12.5M753.74 241.8V237.6M753.74 8.3V12.5M767.1 241.8V231M767.1 8.3V19.1M780.46 241.8V237.6M780.46 8.3V12.5M793.82 241.8V237.6M793.82 8.3V12.5M466.9 238.12H471.1M800.1 238.12H795.9M466.9 234.58H471.1M800.1 234.58H795.9M466.9 231.17H471.1M800.1 231.17H795.9M466.9 227.89H471.1M800.1 227.89H795.9M466.9 224.71H477.7M800.1 224.71H789.3M466.9 221.63H471.1M800.1 221.63H795.9M466.9 218.66H471.1M800.1 218.66H795.9M466.9 215.77H471.1M800.1 215.77H795.9M466.9 212.97H471.1M800.1 212.97H795.9M466.9 210.25H477.7M800.1 210.25H789.3M466.9 207.61H471.1M800.1 207.61H795.9M466.9 205.04H471.1M800.1 205.04H795.9M466.9 202.54H471.1M800.1 202.54H795.9M466.9 200.11H471.1M800.1 200.11H795.9M466.9 197.74H477.7M800.1 197.74H789.3M466.9 195.42H471.1M800.1 195.42H795.9M466.9 193.16H471.1M800.1 193.16H795.9M466.9 190.95H471.1M800.1 190.95H795.9M466.9 188.8H471.1M800.1 188.8H795.9M466.9 186.69H477.7M800.1 186.69H789.3M466.9 184.63H471.1M800.1 184.63H795.9M466.9 182.62H471.1M800.1 182.62H795.9M466.9 180.64H471.1M800.1 180.64H795.9M466.9 178.71H471.1M800.1 178.71H795.9M466.9 176.81H477.7M800.1 176.81H789.3M466.9 159.72H471.1M800.1 159.72H795.9M466.9 145.27H471.1M800.1 145.27H795.9M466.9 132.75H471.1M800.1 132.75H795.9M466.9 121.71H471.1M800.1 121.71H795.9M466.9 111.83H477.7M800.1 111.83H789.3M466.9 102.89H471.1M800.1 102.89H795.9M466.9 94.74H471.1M800.1 94.74H795.9M466.9 87.23H471.1M800.1 87.23H795.9M466.9 80.28H471.1M800.1 80.28H795.9M466.9 73.82H477.7M800.1 73.82H789.3M466.9 67.76H471.1M800.1 67.76H795.9M466.9 62.08H471.1M800.1 62.08H795.9M466.9 56.72H471.1M800.1 56.72H795.9M466.9 51.65H471.1M800.1 51.65H795.9M466.9 46.84H477.7M800.1 46.84H789.3M466.9 42.27H471.1M800.1 42.27H795.9M466.9 37.91H471.1M800.1 37.91H795.9M466.9 33.74H471.1M800.1 33.74H795.9M466.9 29.75H471.1M800.1 29.75H795.9M466.9 25.92H477.7M800.1 25.92H789.3M466.9 22.25H471.1M800.1 22.25H795.9M466.9 18.71H471.1M800.1 18.71H795.9M466.9 15.3H471.1M800.1 15.3H795.9M466.9 12.01H471.1M800.1 12.01H795.9" stroke="#000" stroke-width="1.35" fill="none"/>
<rect x="466.9" y="8.3" width="333.20000000000005" height="233.5" fill="none" stroke="#000" stroke-width="1.5"/>
<text class="s" fill="#000" stroke="#000" x="462" y="30.72" font-size="12.2" text-anchor="end" textLength="27" lengthAdjust="spacingAndGlyphs">0.50</text>
<text class="s" fill="#000" stroke="#000" x="462" y="78.62" font-size="12.2" text-anchor="end" textLength="27" lengthAdjust="spacingAndGlyphs">0.30</text>
<text class="s" fill="#000" stroke="#000" x="462" y="116.63" font-size="12.2" text-anchor="end" textLength="27" lengthAdjust="spacingAndGlyphs">0.20</text>
<text class="s" fill="#000" stroke="#000" x="462" y="181.61" font-size="12.2" text-anchor="end" textLength="27" lengthAdjust="spacingAndGlyphs">0.10</text>
<text class="s" fill="#000" stroke="#000" x="462" y="215.05" font-size="12.2" text-anchor="end" textLength="27" lengthAdjust="spacingAndGlyphs">0.07</text>
<text class="s" fill="#000" stroke="#000" x="462" y="246.6" font-size="12.2" text-anchor="end" textLength="27" lengthAdjust="spacingAndGlyphs">0.05</text>
<text class="s" fill="#000" stroke="#000" x="500.4" y="258.4" font-size="12.2" text-anchor="middle" textLength="17.4" lengthAdjust="spacingAndGlyphs">−4</text>
<text class="s" fill="#000" stroke="#000" x="567.2" y="258.4" font-size="12.2" text-anchor="middle" textLength="17.4" lengthAdjust="spacingAndGlyphs">−2</text>
<text class="s" fill="#000" stroke="#000" x="633.5" y="258.4" font-size="12.2" text-anchor="middle" textLength="8" lengthAdjust="spacingAndGlyphs">0</text>
<text class="s" fill="#000" stroke="#000" x="700.3" y="258.4" font-size="12.2" text-anchor="middle" textLength="8" lengthAdjust="spacingAndGlyphs">2</text>
<text class="s" fill="#000" stroke="#000" x="767.1" y="258.4" font-size="12.2" text-anchor="middle" textLength="8" lengthAdjust="spacingAndGlyphs">4</text>
<text x="81" y="32.5" font-size="16" textLength="14" lengthAdjust="spacingAndGlyphs" fill="#000" stroke="#000">m</text>
<text x="96.7" y="36.6" font-size="11" textLength="9.4" lengthAdjust="spacingAndGlyphs" fill="#000" stroke="#000">H</text>
<text x="108" y="32.5" font-size="16" textLength="9.6" lengthAdjust="spacingAndGlyphs" fill="#000" stroke="#000">=</text>
<text x="118.2" y="32.5" font-size="15.5" textLength="27" lengthAdjust="spacingAndGlyphs" fill="#000" stroke="#000">400</text>
<text x="151.3" y="32.5" font-size="15.5" textLength="27" lengthAdjust="spacingAndGlyphs" fill="#000" stroke="#000">GeV</text>
<text x="328.1" y="32.4" font-size="16.5" textLength="14.2" lengthAdjust="spacingAndGlyphs" fill="#000" stroke="#000">m</text>
<text x="343.6" y="36.2" font-size="12.5" textLength="5.6" lengthAdjust="spacingAndGlyphs" fill="#000" stroke="#000">t</text>
<path d="M350.6 27.6H359M356.5 24.7L359.6 27.6L356.5 30.5" stroke="#000" stroke-width="1.5" fill="none" stroke-linejoin="miter"/>
<path d="M367.8 27.7C369.38 24.9 372.3 24.9 372.3 27.7C372.3 30.5 369.38 30.5 367.8 27.7C366.23 24.9 363.3 24.9 363.3 27.7C363.3 30.5 366.23 30.5 367.8 27.7Z" stroke="#000" stroke-width="1.6" fill="none"/>
<text x="208.8" y="176.6" font-size="14.5" textLength="48.4" lengthAdjust="spacingAndGlyphs" fill="#000" stroke="#000">siscone</text>
<text x="209.2" y="195.4" font-size="14.5" textLength="8.6" lengthAdjust="spacingAndGlyphs" fill="#000" stroke="#000">p</text>
<text x="217.8" y="199" font-size="8.5" textLength="5.4" lengthAdjust="spacingAndGlyphs" fill="#000" stroke="#000">T</text>
<text x="218" y="189.4" font-size="8" textLength="11" lengthAdjust="spacingAndGlyphs" class="s" fill="#000" stroke="#000">jet</text>
<text x="230.3" y="195.4" font-size="14" textLength="8.4" lengthAdjust="spacingAndGlyphs" fill="#000" stroke="#000">&gt;</text>
<text x="240.4" y="195.4" font-size="13.5" textLength="14" lengthAdjust="spacingAndGlyphs" fill="#000" stroke="#000">10</text>
<text x="239.9" y="213.9" font-size="13.5" textLength="15.2" lengthAdjust="spacingAndGlyphs" fill="#000" stroke="#000">40</text>
<text x="239.9" y="232.6" font-size="13.5" textLength="15" lengthAdjust="spacingAndGlyphs" fill="#000" stroke="#000">80</text>
<text x="262.3" y="232.6" font-size="14" textLength="24.6" lengthAdjust="spacingAndGlyphs" fill="#000" stroke="#000">GeV</text>
<text x="219.6" y="280.6" font-size="19" textLength="9.6" lengthAdjust="spacingAndGlyphs" fill="#000" stroke="#000" style="font-weight:normal;stroke-width:0.8px">y</text>
<text x="230.4" y="285.3" font-size="11.5" textLength="16.5" lengthAdjust="spacingAndGlyphs" class="s" fill="#000" stroke="#000">jet</text>
<g transform="translate(21.4 182) rotate(-90)">
<text x="0" y="0" font-size="19" textLength="9.8" lengthAdjust="spacingAndGlyphs" fill="#000" stroke="#000" style="font-weight:normal;stroke-width:0.8px">d</text>
<text x="11.5" y="0" font-size="19" textLength="10.2" lengthAdjust="spacingAndGlyphs" fill="#000" stroke="#000" style="font-weight:normal;stroke-width:0.8px">σ</text>
<path d="M23.7 3.3L33.9 -15.4" stroke="#000" stroke-width="1.5" fill="none"/>
<text x="35.2" y="0" font-size="19" textLength="10.2" lengthAdjust="spacingAndGlyphs" fill="#000" stroke="#000" style="font-weight:normal;stroke-width:0.8px">d</text>
<text x="47.1" y="0" font-size="19" textLength="9.4" lengthAdjust="spacingAndGlyphs" fill="#000" stroke="#000" style="font-weight:normal;stroke-width:0.8px">y</text>
<text x="58.2" y="4.2" font-size="11.5" textLength="16.1" lengthAdjust="spacingAndGlyphs" class="s" fill="#000" stroke="#000">jet</text>
<path d="M90.4 -15.6H86.25V3.2H90.4" stroke="#000" stroke-width="1.7" fill="none" stroke-linejoin="miter"/>
<text x="93.8" y="0" font-size="19" textLength="9.4" lengthAdjust="spacingAndGlyphs" fill="#000" stroke="#000" style="font-weight:normal;stroke-width:0.8px">p</text>
<text x="104.9" y="0" font-size="19" textLength="9.3" lengthAdjust="spacingAndGlyphs" fill="#000" stroke="#000" style="font-weight:normal;stroke-width:0.8px">b</text>
<path d="M116.2 -15.6H120.35V3.2H116.2" stroke="#000" stroke-width="1.7" fill="none" stroke-linejoin="miter"/>
</g>
<path d="M486.1 31.6H504.6" stroke="#0000ff" stroke-width="1.5" stroke-dasharray="8.7 6.2"/>
<text x="511.2" y="35.5" font-size="15.5" textLength="10.2" lengthAdjust="spacingAndGlyphs" fill="#0000ff" stroke="#0000ff">h</text>
<text x="522.8" y="35.5" font-size="15.5" textLength="9.6" lengthAdjust="spacingAndGlyphs" fill="#0000ff" stroke="#0000ff">=</text>
<text x="535.6" y="35.5" font-size="15.5" textLength="26" lengthAdjust="spacingAndGlyphs" fill="#0000ff" stroke="#0000ff">120</text>
<text x="567.2" y="35.5" font-size="15.5" textLength="28.8" lengthAdjust="spacingAndGlyphs" fill="#0000ff" stroke="#0000ff">GeV</text>
<path d="M486.2 53.7H504.4" stroke="#000" stroke-width="1.5" stroke-dasharray="2.5 3"/>
<text x="511.3" y="58" font-size="15.5" textLength="37.7" lengthAdjust="spacingAndGlyphs" fill="#000" stroke="#000">h=m</text>
<text x="550.3" y="62.2" font-size="11" textLength="8.3" lengthAdjust="spacingAndGlyphs" fill="#000" stroke="#000">H</text>
<path d="M486.2 76.9H504.2" stroke="#ff0000" stroke-width="1.5"/>
<text x="511.3" y="80.8" font-size="15.5" textLength="10" lengthAdjust="spacingAndGlyphs" fill="#ff0000" stroke="#ff0000">h</text>
<path d="M523.1 76H532M529.5 73.1L532.6 76L529.5 78.9" stroke="#ff0000" stroke-width="1.5" fill="none" stroke-linejoin="miter"/>
<path d="M539.9 76C541.58 73.2 544.7 73.2 544.7 76C544.7 78.8 541.58 78.8 539.9 76C538.22 73.2 535.1 73.2 535.1 76C535.1 78.8 538.22 78.8 539.9 76Z" stroke="#ff0000" stroke-width="1.6" fill="none"/>
<text x="601.3" y="280.6" font-size="19" textLength="9.7" lengthAdjust="spacingAndGlyphs" fill="#000" stroke="#000" style="font-weight:normal;stroke-width:0.8px">y</text>
<text x="612.5" y="285.3" font-size="11.5" textLength="17" lengthAdjust="spacingAndGlyphs" class="s" fill="#000" stroke="#000">jet</text>
<path d="M632 275.5H643.1" stroke="#000" stroke-width="1.4"/>
<text x="644.8" y="280.6" font-size="19" textLength="10.2" lengthAdjust="spacingAndGlyphs" fill="#000" stroke="#000" style="font-weight:normal;stroke-width:0.8px">y</text>
<text x="656.4" y="285.7" font-size="9.5" textLength="8.5" lengthAdjust="spacingAndGlyphs" fill="#000" stroke="#000">H</text>
<g transform="translate(811 43.8) rotate(90)">
<text x="0" y="0" font-size="19" textLength="9.4" lengthAdjust="spacingAndGlyphs" fill="#000" stroke="#000" style="font-weight:normal;stroke-width:0.8px">d</text>
<text x="11.1" y="0" font-size="19" textLength="10.7" lengthAdjust="spacingAndGlyphs" fill="#000" stroke="#000" style="font-weight:normal;stroke-width:0.8px">σ</text>
<path d="M22.7 3L33.3 -15.8" stroke="#000" stroke-width="1.5" fill="none"/>
<text x="37.5" y="0" font-size="19" textLength="10.2" lengthAdjust="spacingAndGlyphs" fill="#000" stroke="#000" style="font-weight:normal;stroke-width:0.8px">d</text>
<text x="48.5" y="0" font-size="19" textLength="4.7" lengthAdjust="spacingAndGlyphs" fill="#000" stroke="#000" style="font-weight:normal;stroke-width:0.8px">(</text>
<text x="54.5" y="0" font-size="19" textLength="9.3" lengthAdjust="spacingAndGlyphs" fill="#000" stroke="#000" style="font-weight:normal;stroke-width:0.8px">y</text>
<text x="64.6" y="4.2" font-size="11.5" textLength="16.6" lengthAdjust="spacingAndGlyphs" class="s" fill="#000" stroke="#000">jet</text>
<path d="M85 -5.7H94.4" stroke="#000" stroke-width="1.4"/>
<text x="97.8" y="0" font-size="19" textLength="9.3" lengthAdjust="spacingAndGlyphs" fill="#000" stroke="#000" style="font-weight:normal;stroke-width:0.8px">y</text>
<text x="108.7" y="4.4" font-size="9.5" textLength="7.4" lengthAdjust="spacingAndGlyphs" fill="#000" stroke="#000">H</text>
<text x="117.8" y="0" font-size="19" textLength="5.4" lengthAdjust="spacingAndGlyphs" fill="#000" stroke="#000" style="font-weight:normal;stroke-width:0.8px">)</text>
<path d="M140.5 -15.6H136.35V3.2H140.5" stroke="#000" stroke-width="1.7" fill="none" stroke-linejoin="miter"/>
<text x="144.5" y="0" font-size="19" textLength="9.4" lengthAdjust="spacingAndGlyphs" fill="#000" stroke="#000" style="font-weight:normal;stroke-width:0.8px">p</text>
<text x="155.5" y="0" font-size="19" textLength="9.3" lengthAdjust="spacingAndGlyphs" fill="#000" stroke="#000" style="font-weight:normal;stroke-width:0.8px">b</text>
<path d="M166.9 -15.6H171.05V3.2H166.9" stroke="#000" stroke-width="1.7" fill="none" stroke-linejoin="miter"/>
</g>
</svg></body></html>
